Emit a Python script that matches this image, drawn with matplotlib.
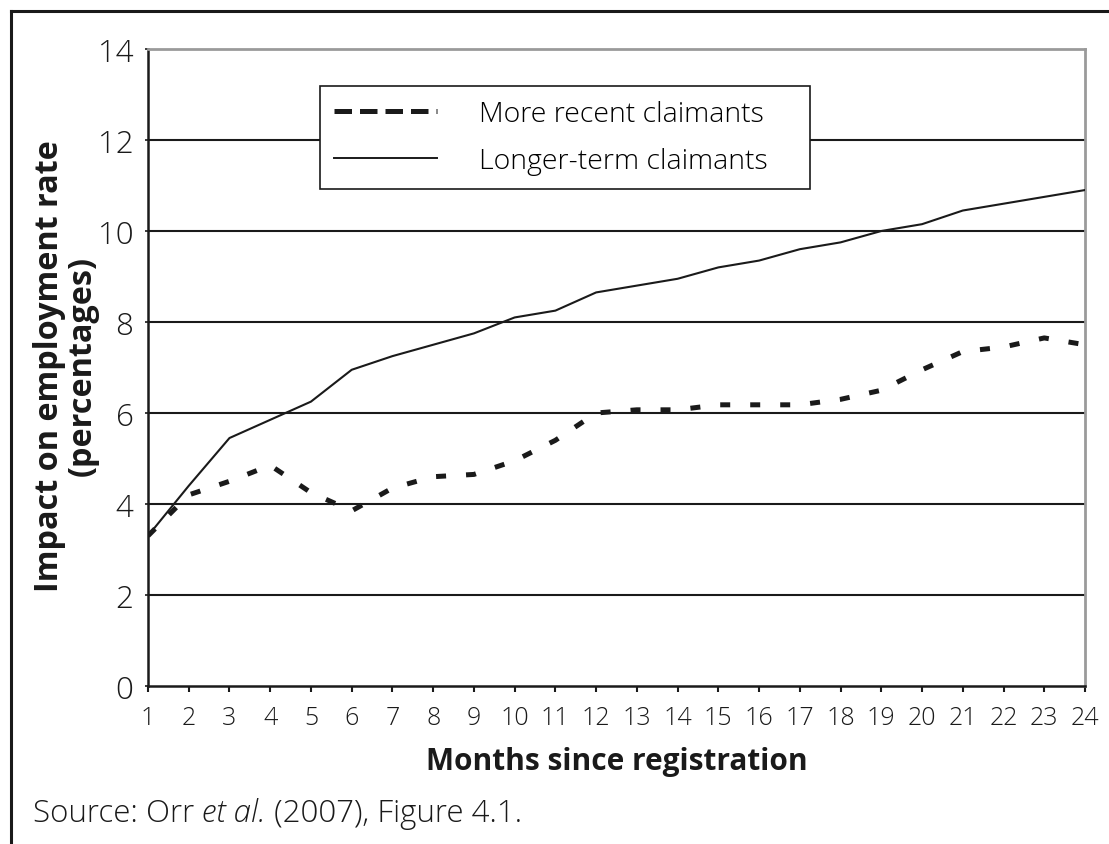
import matplotlib
matplotlib.use("Agg")
import matplotlib.pyplot as plt
from matplotlib.lines import Line2D

plt.rcParams["font.family"] = ["Open Sans", "DejaVu Sans"]

# data
months = list(range(1, 25))
recent = [3.3, 4.2, 4.5, 4.85, 4.25, 3.85, 4.35, 4.6, 4.65, 4.95, 5.4, 6.0,
          6.07, 6.07, 6.18, 6.18, 6.18, 6.3, 6.5, 6.95, 7.35, 7.45, 7.65, 7.5]
longer = [3.3, 4.4, 5.45, 5.85, 6.25, 6.95, 7.25, 7.5, 7.75, 8.1, 8.25, 8.65,
          8.8, 8.95, 9.2, 9.35, 9.6, 9.75, 10.0, 10.15, 10.45, 10.6, 10.75, 10.9]
y_ticks = [0, 2, 4, 6, 8, 10, 12, 14]
series_names = ["More recent claimants", "Longer-term claimants"]

INK = "#1a1a1a"
W, H = 1109, 845

fig = plt.figure(figsize=(W / 100, H / 100), dpi=100)
ax = fig.add_axes([148 / W, 1 - 687 / H, (1085 - 148) / W, (687 - 50) / H])

for yv in y_ticks[1:-1]:
    ax.axhline(yv, color=INK, lw=1.5, zorder=1)

ax.plot(months, longer, color=INK, lw=1.5, zorder=3)
ax.plot(months, recent, color=INK, lw=3.6, dashes=(2, 4),
        dash_capstyle="butt", zorder=3)

ax.set_xlim(1, 24)
ax.set_ylim(0, 14)
ax.set_xticks(months)
ax.set_yticks(y_ticks)
ax.tick_params(axis="x", direction="out", length=4.5, width=1.5, pad=9,
               labelsize=18, colors=INK)
ax.tick_params(axis="y", direction="out", length=2.5, width=1.2, pad=8,
               labelsize=22.5, colors=INK)
for lab in ax.get_xticklabels() + ax.get_yticklabels():
    lab.set_fontweight("light")

for side in ["left", "bottom"]:
    ax.spines[side].set_color(INK)
    ax.spines[side].set_linewidth(1.8)
for side in ["top", "right"]:
    ax.spines[side].set_color("#9a9a9a")
    ax.spines[side].set_linewidth(2.0)

handles = [
    Line2D([], [], color=INK, lw=3.6, dashes=(3.5, 1.6), dash_capstyle="butt"),
    Line2D([], [], color=INK, lw=1.4),
]
leg_top = (687 - 87) / 637
leg_h = 100 / 637
leg = ax.legend(handles, series_names, loc="upper left", mode="expand",
                bbox_to_anchor=((320 - 148) / 937, leg_top - leg_h,
                                (810 - 320) / 937, leg_h),
                prop={"size": 20.5, "weight": "light"}, frameon=True,
                fancybox=False, edgecolor=INK, framealpha=1,
                handlelength=3.6, handletextpad=1.5, borderpad=0.5,
                labelspacing=0.65, borderaxespad=0)
leg.get_frame().set_linewidth(1.2)

fig.text(616.5 / W, 1 - 770 / H, "Months since registration", ha="center",
         va="baseline", fontsize=21.5, fontweight="bold", color=INK)
fig.text(66 / W, 1 - 366 / H, "Impact on employment rate\n(percentages)",
         rotation=90, ha="center", va="center", multialignment="center",
         fontsize=23.3, fontweight="bold", color=INK, linespacing=1.0)

# source line with italic et al.
src_y = 1 - 822 / H
t1 = fig.text(33 / W, src_y, "Source: Orr ", fontsize=22.5, fontweight="light",
              color=INK, va="baseline")
t2 = fig.text(0, src_y, "et al.", fontsize=22.5, fontweight="light",
              style="italic", color=INK, va="baseline")
t3 = fig.text(0, src_y, " (2007), Figure 4.1.", fontsize=22.5,
              fontweight="light", color=INK, va="baseline")
fig.canvas.draw()
r = fig.canvas.get_renderer()
bb1 = t1.get_window_extent(r)
t2.set_x(bb1.x1 / fig.bbox.width)
bb2 = t2.get_window_extent(r)
t3.set_x(bb2.x1 / fig.bbox.width)

# outer frame (top and left edges visible)
fig.add_artist(Line2D([11 / W, 1.0], [1 - 12 / H, 1 - 12 / H],
                      color=INK, lw=2.2, transform=fig.transFigure))
fig.add_artist(Line2D([11 / W, 11 / W], [1 - 12 / H, 0.0],
                      color=INK, lw=2.2, transform=fig.transFigure))

fig.savefig("out.png", dpi=100)
